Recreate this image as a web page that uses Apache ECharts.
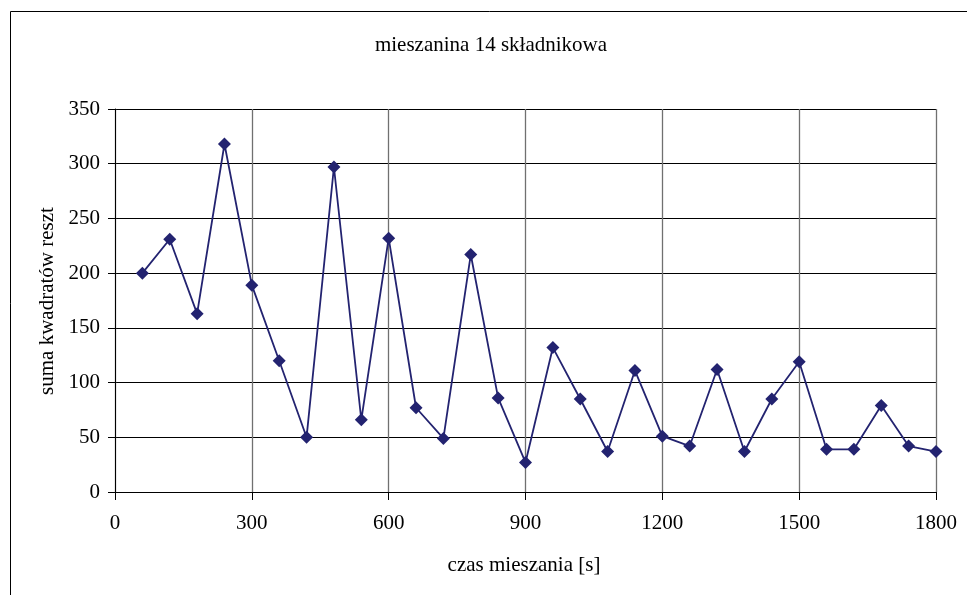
<!DOCTYPE html>
<html>
<head>
<meta charset="utf-8">
<script src="https://cdn.jsdelivr.net/npm/echarts@6/dist/echarts.min.js"></script>
<style>html,body{margin:0;padding:0;background:#fff}#c{width:967px;height:595px}</style>
</head>
<body>
<div id="c"></div>
<script>
const titleText = 'mieszanina 14 składnikowa';
const xName = 'czas mieszania [s]';
const yName = 'suma kwadratów reszt';
const times = [60,120,180,240,300,360,420,480,540,600,660,720,780,840,900,960,1020,1080,1140,1200,1260,1320,1380,1440,1500,1560,1620,1680,1740,1800];
const values = [200,231,163,318,189,120,50,297,66,232,77,49,217,86,27,132,85,37,111,51,42,112,37,85,119,39,39,79,42,37];

const font = 'Liberation Serif, Times New Roman, serif';
const chart = echarts.init(document.getElementById('c'));
chart.setOption({
  animation: false,
  backgroundColor: '#fff',
  grid: {left: 115, right: 31, top: 109, bottom: 103, show: false},
  graphic: [
    {type: 'rect', shape: {x: 10.5, y: 11.5, width: 1000, height: 1000}, style: {fill: 'none', stroke: '#000', lineWidth: 1}, z: -10},
    {type: 'text', x: 491, y: 45, style: {text: titleText, font: '21px ' + font, fill: '#000', align: 'center', verticalAlign: 'middle'}},
    {type: 'text', x: 524, y: 565, style: {text: xName, font: '21px ' + font, fill: '#000', align: 'center', verticalAlign: 'middle'}},
    {type: 'text', x: 47, y: 301, rotation: Math.PI / 2, style: {text: yName, font: '21px ' + font, fill: '#000', align: 'center', verticalAlign: 'middle'}}
  ],
  xAxis: {
    type: 'value', min: 0, max: 1800, interval: 300,
    axisLine: {show: true, lineStyle: {color: '#000', width: 1}},
    axisTick: {show: true, length: 8, lineStyle: {color: '#000'}},
    axisLabel: {color: '#000', fontFamily: font, fontSize: 21, margin: 21, formatter: v => String(v)},
    splitLine: {show: true, lineStyle: {color: '#707070', width: 1.3}}
  },
  yAxis: {
    type: 'value', min: 0, max: 350, interval: 50,
    axisLine: {show: true, lineStyle: {color: '#000', width: 1}},
    axisTick: {show: true, length: 7, lineStyle: {color: '#000'}},
    axisLabel: {color: '#000', fontFamily: font, fontSize: 21, margin: 15, formatter: v => String(v)},
    splitLine: {show: true, lineStyle: {color: '#000', width: 1}}
  },
  series: [{
    type: 'line',
    data: times.map((t, i) => [t, values[i]]),
    symbol: 'diamond', symbolSize: 13,
    lineStyle: {color: '#232370', width: 1.8},
    itemStyle: {color: '#232370'},
    clip: false
  }]
});
</script>
</body>
</html>
